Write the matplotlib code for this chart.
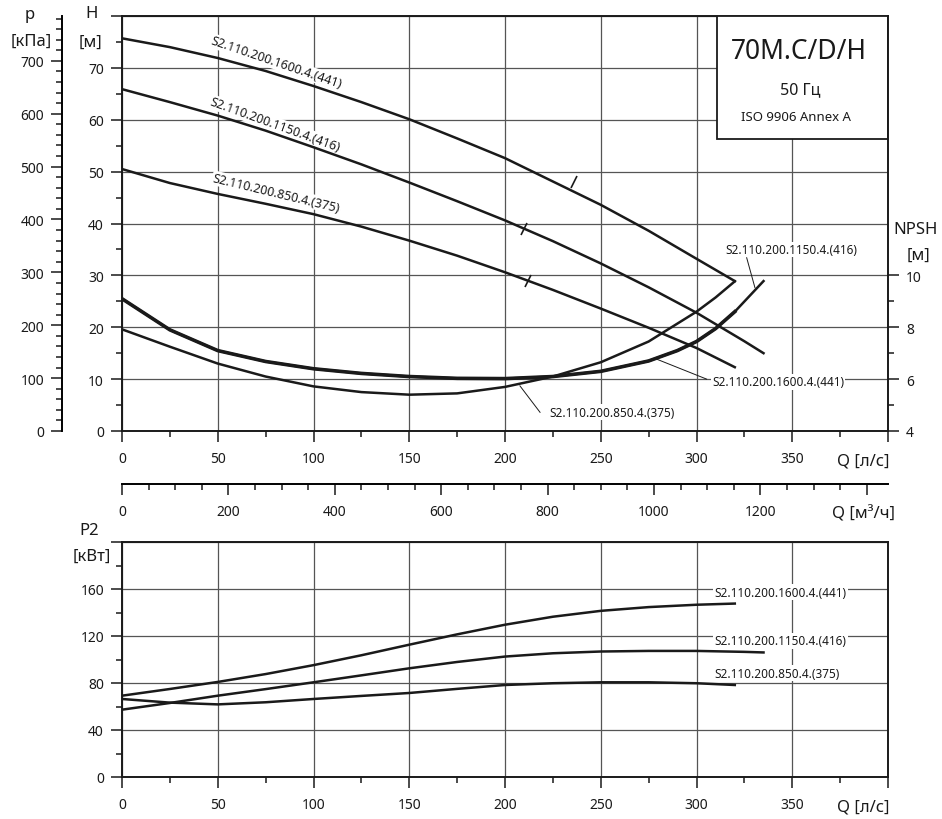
import numpy as np
import matplotlib
matplotlib.use('Agg')
import matplotlib.pyplot as plt
from matplotlib.ticker import MultipleLocator, FixedLocator, FuncFormatter
from matplotlib.markers import MarkerStyle
from matplotlib.transforms import Affine2D
from matplotlib.patches import Rectangle

plt.rcParams['font.family'] = ['Noto Sans', 'DejaVu Sans']

# flow Q [l/s] at which the curves were read
q_320 = [0, 25, 50, 75, 100, 125, 150, 175, 200, 225, 250, 275, 300, 320]
q_335 = [0, 25, 50, 75, 100, 125, 150, 175, 200, 225, 250, 275, 300, 325, 335]

names = ['S2.110.200.1600.4.(441)', 'S2.110.200.1150.4.(416)', 'S2.110.200.850.4.(375)']

# head H [m]
h_1600 = [75.7, 74.0, 71.9, 69.4, 66.5, 63.4, 60.1, 56.4, 52.6, 48.1, 43.6, 38.6, 33.2, 28.9]
h_1150 = [65.9, 63.4, 60.8, 57.9, 54.7, 51.4, 47.9, 44.3, 40.6, 36.6, 32.3, 27.7, 22.8, 17.3, 15.0]
h_850 = [50.5, 47.8, 45.7, 43.8, 41.8, 39.4, 36.7, 33.8, 30.6, 27.2, 23.6, 19.9, 16.0, 12.3]

# best efficiency marks on the head curves
bep_q = [236, 210, 212]
bep_h = [48.0, 38.9, 28.9]

# NPSH [m]
q_npsh_1600 = [0, 25, 50, 75, 100, 125, 150, 175, 200, 225, 250, 275, 290, 300, 310, 320]
npsh_1600 = [9.1, 7.9, 7.1, 6.68, 6.4, 6.22, 6.1, 6.03, 6.02, 6.1, 6.3, 6.7, 7.1, 7.45, 7.95, 8.6]
q_npsh_1150 = [0, 25, 50, 75, 100, 125, 150, 175, 200, 225, 250, 275, 290, 300, 310, 320, 335]
npsh_1150 = [9.1, 7.9, 7.1, 6.68, 6.4, 6.22, 6.1, 6.03, 6.02, 6.1, 6.3, 6.7, 7.1, 7.45, 7.95, 8.6, 9.78]
q_npsh_850 = [0, 25, 50, 75, 100, 125, 150, 175, 200, 225, 250, 275, 300, 310, 320]
npsh_850 = [7.92, 7.25, 6.6, 6.1, 5.72, 5.5, 5.4, 5.45, 5.7, 6.1, 6.65, 7.45, 8.6, 9.15, 9.77]

# shaft power P2 [kW]
p2_1600 = [69.2, 74.9, 80.9, 87.6, 95.2, 103.6, 112.6, 121.4, 129.6, 136.4, 141.4, 144.6, 146.6, 147.6]
p2_1150 = [57.3, 63.0, 69.2, 74.8, 80.6, 86.5, 92.5, 97.9, 102.5, 105.3, 106.8, 107.3, 107.3, 106.5, 106.0]
p2_850 = [66.4, 63.3, 61.8, 63.6, 66.4, 69.0, 71.5, 75.0, 78.3, 79.8, 80.6, 80.6, 79.8, 78.3]

# pressure scale ticks [kPa]
p_ticks = [0, 100, 200, 300, 400, 500, 600, 700]

W_PX, H_PX = 942, 820
fig = plt.figure(figsize=(W_PX / 100, H_PX / 100), dpi=100)
L, W = 122 / W_PX, 766 / W_PX
ax = fig.add_axes([L, 1 - 432 / H_PX, W, 415 / H_PX])
axp = fig.add_axes([L, 1 - 778 / H_PX, W, 235 / H_PX])

INK = '#1a1a1a'
LW = 1.8


def style(a, top_val):
    a.set_xlim(0, 400)
    a.xaxis.set_major_locator(MultipleLocator(50))
    a.xaxis.set_minor_locator(MultipleLocator(25))
    a.xaxis.set_major_formatter(FuncFormatter(lambda v, p: '' if v > 360 else f'{v:.0f}'))
    a.yaxis.set_major_formatter(FuncFormatter(lambda v, p: '' if v >= top_val else f'{v:.0f}'))
    a.tick_params(which='both', direction='out', width=1.1, color=INK, labelsize=10, labelcolor=INK)
    a.tick_params(which='major', length=8)
    a.tick_params(which='minor', length=4)
    a.tick_params(axis='x', pad=6.5)
    a.tick_params(axis='y', pad=5)
    for s in a.spines.values():
        s.set_linewidth(1.4)
        s.set_color(INK)
    a.grid(True, which='major', color='#555555', lw=0.9)
    a.set_axisbelow(True)


# ---- head chart ----
style(ax, 80)
ax.set_ylim(0, 80)
ax.yaxis.set_major_locator(MultipleLocator(10))
ax.yaxis.set_minor_locator(MultipleLocator(5))
ax.spines['right'].set_visible(False)

ax.plot(q_320, h_1600, color=INK, lw=LW, zorder=5)
ax.plot(q_335, h_1150, color=INK, lw=LW, zorder=5)
ax.plot(q_320, h_850, color=INK, lw=LW, zorder=5)
tick_mark = MarkerStyle('|', transform=Affine2D().rotate_deg(-25))
ax.plot(bep_q, bep_h, ls='none', marker=tick_mark, ms=9, mew=1.2, color=INK, zorder=5)

lab_pos = [(80.4, 71.1, -18.8), (79.8, 59.1, -19.9), (80.6, 45.9, -13.6)]
for name, (xq, yh, rot) in zip(names, lab_pos):
    ax.text(xq, yh, name, rotation=rot, rotation_mode='anchor', ha='center', va='center',
            fontsize=9, color=INK, bbox=dict(fc='white', ec='none', pad=0.6), zorder=4)

# info box
ax.add_patch(Rectangle((0.7768, 0.7036), 1 - 0.7768, 1 - 0.7036, transform=ax.transAxes,
                       fc='white', ec=INK, lw=1.3, zorder=3))
ax.text(0.884, 0.916, '70M.C/D/H', transform=ax.transAxes, ha='center', va='center',
        fontsize=19, color=INK, zorder=4)
ax.text(0.885, 0.824, '50 Гц', transform=ax.transAxes, ha='center', va='center',
        fontsize=11.5, color=INK, zorder=4)
ax.text(0.880, 0.759, 'ISO 9906 Annex A', transform=ax.transAxes, ha='center', va='center',
        fontsize=9.5, color=INK, zorder=4)

# pressure axis
sec = ax.secondary_yaxis(-60 / 766, functions=(lambda h: h * 9.81, lambda p: p / 9.81))
sec.yaxis.set_major_locator(FixedLocator(p_ticks))
sec.yaxis.set_minor_locator(MultipleLocator(20))
sec.tick_params(which='both', direction='out', width=1.1, color=INK, labelsize=10, labelcolor=INK, pad=5)
sec.tick_params(which='major', length=8)
sec.tick_params(which='minor', length=4)
sec.spines['left'].set_linewidth(1.4)

# m3/h axis
secx = ax.secondary_xaxis(-53 / 415, functions=(lambda q: q * 3.6, lambda m: m / 3.6))
secx.xaxis.set_major_locator(MultipleLocator(200))
secx.xaxis.set_minor_locator(MultipleLocator(50))
secx.xaxis.set_major_formatter(FuncFormatter(lambda v, p: '' if v > 1300 else f'{v:.0f}'))
secx.tick_params(which='both', direction='out', width=1.1, color=INK, labelsize=10, labelcolor=INK, pad=6.5)
secx.tick_params(which='major', length=8)
secx.tick_params(which='minor', length=4)
secx.spines['bottom'].set_linewidth(1.4)

# NPSH axis
ax2 = ax.twinx()
ax2.set_ylim(4, 20)
ax2.set_yticks([4, 6, 8, 10])
ax2.set_yticks([5, 7, 9], minor=True)
ax2.tick_params(which='both', direction='out', width=1.1, color=INK, labelsize=10, labelcolor=INK, pad=5)
ax2.tick_params(which='major', length=8)
ax2.tick_params(which='minor', length=4)
for k in ['top', 'left', 'bottom']:
    ax2.spines[k].set_visible(False)
ax2.spines['right'].set_linewidth(1.4)
ax2.spines['right'].set_color(INK)

ax2.plot(q_npsh_1600, npsh_1600, color=INK, lw=2.6, zorder=5)
ax2.plot(q_npsh_1150, npsh_1150, color=INK, lw=LW, zorder=5)
ax2.plot(q_npsh_850, npsh_850, color=INK, lw=LW, zorder=5)

npsh_labels = [
    (names[1], 349.7, 11.0, (326.2, 330.5), (10.68, 9.53)),
    (names[0], 342.6, 5.9, (305.3, 279.2), (6.0, 6.77)),
    (names[2], 255.7, 4.73, (218.3, 207.8), (4.72, 5.74)),
]
for name, xq, yn, lx, ly in npsh_labels:
    ax2.plot(lx, ly, color=INK, lw=0.7)
    ax2.text(xq, yn, name, ha='center', va='center', fontsize=8.5, color=INK,
             bbox=dict(fc='white', ec='none', pad=1.0))

# ---- power chart ----
style(axp, 200)
axp.set_ylim(0, 200)
axp.yaxis.set_major_locator(MultipleLocator(40))
axp.yaxis.set_minor_locator(MultipleLocator(20))
axp.plot(q_320, p2_1600, color=INK, lw=LW, zorder=5)
axp.plot(q_335, p2_1150, color=INK, lw=LW, zorder=5)
axp.plot(q_320, p2_850, color=INK, lw=LW, zorder=5)
for name, yp in zip(names, [157.2, 116.0, 88.3]):
    axp.text(309.3, yp, name, ha='left', va='center', fontsize=8.5, color=INK,
             bbox=dict(fc='white', ec='none', pad=1.0), zorder=4)


# ---- axis titles (figure pixel positions) ----
def ftext(x, y, s, size=12, ha='center'):
    fig.text(x / W_PX, 1 - y / H_PX, s, ha=ha, va='center', fontsize=size, color=INK)


ftext(30, 15, 'p')
ftext(31, 42, '[кПа]')
ftext(92, 14, 'H')
ftext(91, 43, '[м]')
ftext(916, 230, 'NPSH')
ftext(919, 256, '[м]')
ftext(863, 462, 'Q [л/с]')
ftext(864, 514, 'Q [м³/ч]')
ftext(89, 531, 'P2')
ftext(92, 557, '[кВт]')
ftext(863, 808, 'Q [л/с]')

fig.savefig('out.png', dpi=100)
